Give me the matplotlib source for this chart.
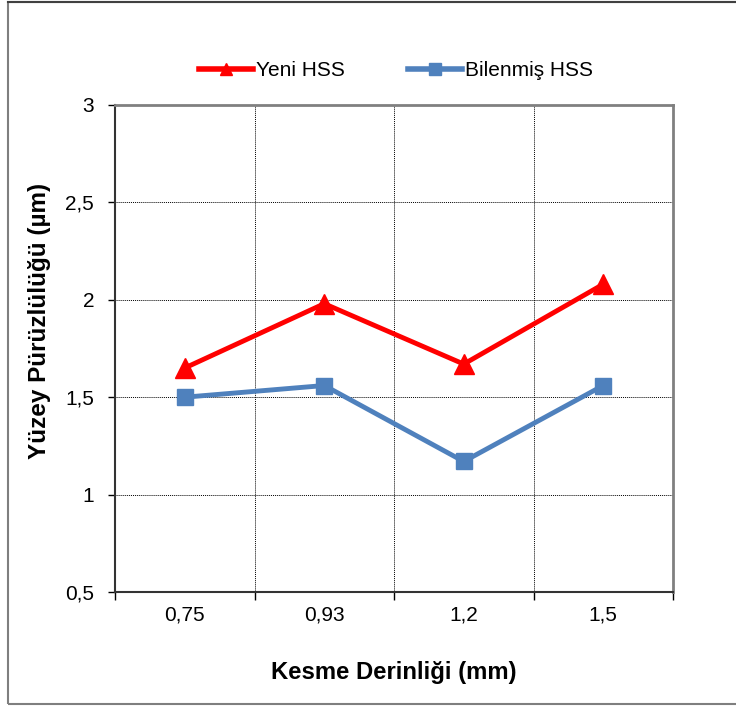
import matplotlib.pyplot as plt
from matplotlib.lines import Line2D
from matplotlib.patches import Rectangle
from matplotlib.ticker import FixedLocator, FuncFormatter

plt.rcParams['font.family'] = ['Liberation Sans', 'DejaVu Sans']

# data
depths = ["0,75", "0,93", "1,2", "1,5"]
yeni_hss = [1.65, 1.98, 1.67, 2.08]
bilenmis_hss = [1.50, 1.56, 1.17, 1.56]

red = "#FF0000"
blue = "#4F81BD"

fig = plt.figure(figsize=(7.36, 7.06), dpi=100)
ax = fig.add_axes([115/736, 1 - 592/706, 558/736, 487/706])

# outer chart frame
fig.patches.append(Rectangle((8/736, 2/706), 1.0, 702/706, transform=fig.transFigure,
                             fill=False, edgecolor="#7f7f7f", linewidth=1.5))
fig.add_artist(Line2D([8/736, 1], [1 - 1.5/706, 1 - 1.5/706], transform=fig.transFigure,
                      color="#404040", linewidth=1.5))

x = range(len(depths))
ax.plot(x, yeni_hss, color=red, linewidth=3.5, marker="^", markersize=15,
        zorder=3, clip_on=False)
ax.plot(x, bilenmis_hss, color=blue, linewidth=3.5, marker="s", markersize=11.5,
        zorder=3, clip_on=False)

ax.set_xlim(-0.5, len(depths) - 0.5)
ax.set_ylim(0.5, 3)
ax.set_yticks([0.5, 1, 1.5, 2, 2.5, 3])
ax.yaxis.set_major_formatter(FuncFormatter(lambda v, p: f"{v:g}".replace(".", ",")))

ax.set_xticks(list(x))
ax.set_xticklabels(depths)
ax.xaxis.set_minor_locator(FixedLocator([i - 0.5 for i in range(len(depths) + 1)]))
ax.tick_params(axis="x", which="major", length=0, pad=10, labelsize=15)
ax.tick_params(axis="x", which="minor", length=6, direction="out", width=1)
ax.tick_params(axis="y", length=5, direction="out", width=1, labelsize=15, pad=10)

ax.grid(True, axis="y", which="major", color="black", linestyle=(0, (1, 1)), linewidth=0.7)
ax.grid(True, axis="x", which="minor", color="black", linestyle=(0, (1, 1)), linewidth=0.7)
ax.set_axisbelow(True)

for side in ["top", "right"]:
    ax.spines[side].set_color("#808080")
    ax.spines[side].set_linewidth(2)
for side in ["left", "bottom"]:
    ax.spines[side].set_color("#333333")
    ax.spines[side].set_linewidth(1.5)

ax.set_xlabel("Kesme Derinliği (mm)", fontsize=17.2, fontweight="bold")
ax.xaxis.set_label_coords(0.5, (592 - 673) / 487)
ax.xaxis.label.set_va("center")
ax.set_ylabel("Yüzey Pürüzlülüğü (µm)", fontsize=17.5, fontweight="bold")
ax.yaxis.set_label_coords((40 - 115) / 558, (592 - 321) / 487)
ax.yaxis.label.set_va("center")

# legend with smaller markers, like the spreadsheet original
handles = [
    Line2D([], [], color=red, linewidth=4, marker="^", markersize=9, label="Yeni HSS"),
    Line2D([], [], color=blue, linewidth=4, marker="s", markersize=8, label="Bilenmiş HSS"),
]
fig.legend(handles=handles, loc="center", bbox_to_anchor=(396/736, 1 - 71/706), ncol=2,
           frameon=False, fontsize=15, handlelength=2.6, columnspacing=3.0,
           handletextpad=0.15)

fig.savefig("out.png", dpi=100)
